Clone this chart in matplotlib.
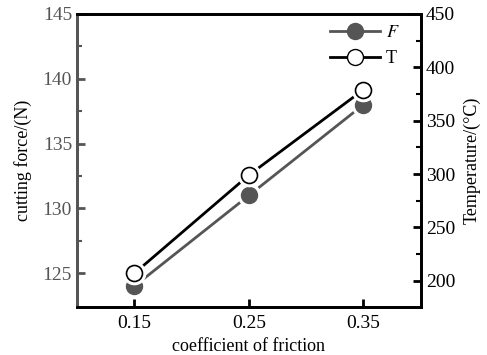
import matplotlib
matplotlib.use("Agg")
import matplotlib.pyplot as plt
from matplotlib.lines import Line2D

plt.rcParams['font.family'] = ['Liberation Serif', 'DejaVu Serif']
plt.rcParams['mathtext.fontset'] = 'stix'

# data
friction = [0.15, 0.25, 0.35]
force = [124, 131, 138]
temperature = [207, 299, 379]
xticks = [0.15, 0.25, 0.35]

gray = '#555555'

fig = plt.figure(figsize=(4.87, 3.55), dpi=100)
ax = fig.add_axes([0.158, 0.135, 0.706, 0.826])
ax2 = ax.twinx()

# cutting force (left axis)
ax.plot(friction, force, color=gray, lw=2, zorder=1)
ax.plot(friction, force, 'o', ms=16, mfc='white', mec='white', zorder=2)
ax.plot(friction, force, 'o', ms=11.5, mfc=gray, mec=gray, zorder=3)

# temperature (right axis)
ax2.plot(friction, temperature, color='black', lw=2, zorder=1)
ax2.plot(friction, temperature, 'o', ms=16, mfc='white', mec='white', zorder=2)
ax2.plot(friction, temperature, 'o', ms=11.5, mfc='white', mec='black', mew=1.2, zorder=3)

ax.set_xlim(0.10, 0.40)
ax.set_ylim(122.4, 145)
ax2.set_ylim(175.5, 450)
ax.set_xticks(xticks)
ax.set_xticklabels(['0.15', '0.25', '0.35'])
ax.set_yticks([125, 130, 135, 140, 145])
ax.set_yticks([127.5, 132.5, 137.5, 142.5], minor=True)
ax2.set_yticks([200, 250, 300, 350, 400, 450])
ax2.set_yticks([225, 275, 325, 375, 425], minor=True)

ax.tick_params(axis='x', direction='in', length=6, width=2, labelsize=14, pad=6, colors='black')
ax.tick_params(axis='y', which='major', direction='in', length=6, width=2, labelsize=14,
               color=gray, labelcolor=gray)
ax.tick_params(axis='y', which='minor', direction='in', length=3.5, width=1.5, color=gray)
ax2.tick_params(axis='y', which='major', direction='in', length=6, width=2, labelsize=14)
ax2.tick_params(axis='y', which='minor', direction='in', length=3.5, width=1.5)

for a in (ax, ax2):
    for s in a.spines.values():
        s.set_linewidth(2)
ax2.spines['left'].set_color(gray)
ax.spines['left'].set_color(gray)

ax.set_xlabel('coefficient of friction', fontsize=13, labelpad=4)
ax.set_ylabel('cutting force/(N)', fontsize=13, labelpad=8)
ax2.set_ylabel('Temperature/(°C)', fontsize=13, labelpad=6)

handles = [
    Line2D([], [], color=gray, lw=2, marker='o', ms=11.5, mfc=gray, mec=gray),
    Line2D([], [], color='black', lw=2, marker='o', ms=11.5, mfc='white', mec='black'),
]
ax2.legend(handles, ['$F$', 'T'], loc='upper right', bbox_to_anchor=(0.985, 1.02),
           frameon=False, fontsize=13, handlelength=2.8, handletextpad=0.3,
           labelspacing=0.5)

fig.savefig('out.png', dpi=100)
